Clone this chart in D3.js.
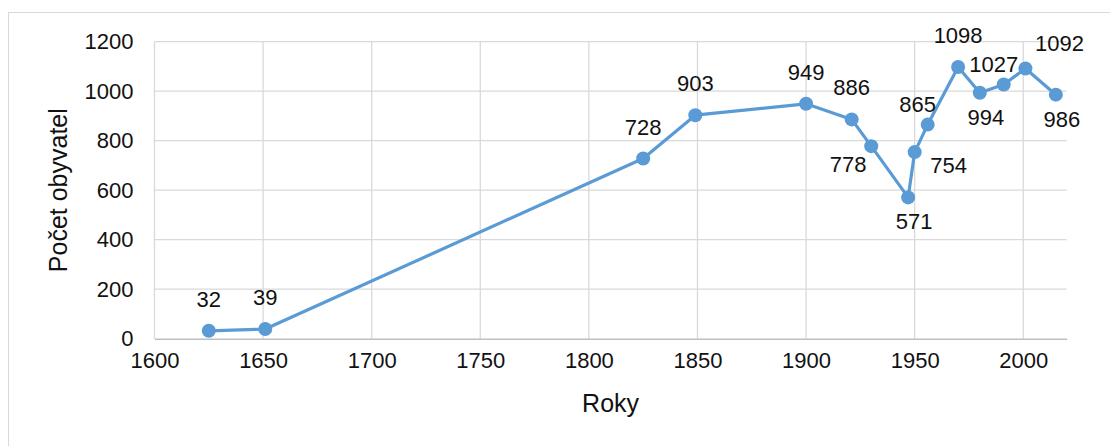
<!DOCTYPE html>
<html>
<head>
<meta charset="utf-8">
<script src="https://d3js.org/d3.v7.min.js"></script>
<style>
  body { margin: 0; background: #fff; }
  text { font-family: "Liberation Sans", Arial, sans-serif; fill: #111; }
</style>
</head>
<body>
<div id="chart"></div>
<script>
// Data
const years = [1625, 1651, 1825, 1849, 1900, 1921, 1930, 1947, 1950, 1956, 1970, 1980, 1991, 2001, 2015];
const population = [32, 39, 728, 903, 949, 886, 778, 571, 754, 865, 1098, 994, 1027, 1092, 986];
const labelPlacement = ["above", "above", "above", "above", "above", "above", "belowLeft", "below",
    "belowRight", "aboveLeft", "above", "below", "aboveLeft", "aboveRight", "below"];
const xTicks = [1600, 1650, 1700, 1750, 1800, 1850, 1900, 1950, 2000];
const yTicks = [0, 200, 400, 600, 800, 1000, 1200];

const width = 1110;
const height = 446;
const margin = { top: 41.7, right: 43.3, bottom: 107.3, left: 154.5 };

const svg = d3.select("#chart")
    .append("svg")
    .attr("width", width)
    .attr("height", height);

// outer chart border
svg.append("rect")
    .attr("x", 8.5).attr("y", 12.5)
    .attr("width", 1110).attr("height", 450)
    .attr("fill", "none")
    .attr("stroke", "#d9d9d9");

const x = d3.scaleLinear()
    .domain([1600, 2020])
    .range([margin.left, width - margin.right]);

const y = d3.scaleLinear()
    .domain([0, 1200])
    .range([height - margin.bottom, margin.top]);

// gridlines
svg.append("g")
    .selectAll("line")
    .data(yTicks.slice(1))
    .enter()
    .append("line")
    .attr("x1", x(1600)).attr("x2", x(2020))
    .attr("y1", d => y(d)).attr("y2", d => y(d))
    .attr("stroke", "#d9d9d9").attr("stroke-width", 1.3);

svg.append("g")
    .selectAll("line")
    .data(xTicks)
    .enter()
    .append("line")
    .attr("x1", d => x(d)).attr("x2", d => x(d))
    .attr("y1", y(0)).attr("y2", y(1200))
    .attr("stroke", "#d9d9d9").attr("stroke-width", 1.3);

// X axis
const xAxis = svg.append("g")
    .attr("transform", `translate(0,${y(0)})`)
    .call(d3.axisBottom(x).tickValues(xTicks).tickFormat(d3.format("d")).tickSize(0).tickPadding(14));
xAxis.select(".domain").attr("stroke", "#bfbfbf").attr("stroke-width", 1.5);
xAxis.selectAll("text").attr("font-size", 22).attr("fill", "#111");

// Y axis
const yAxis = svg.append("g")
    .attr("transform", `translate(${margin.left},0)`)
    .call(d3.axisLeft(y).tickValues(yTicks).tickFormat(d3.format("d")).tickSize(0).tickPadding(21));
yAxis.select(".domain").remove();
yAxis.selectAll("text").attr("font-size", 22).attr("fill", "#111");

// axis titles
svg.append("text")
    .attr("x", (x(1600) + x(2020)) / 2)
    .attr("y", 412)
    .attr("text-anchor", "middle")
    .attr("font-size", 25)
    .text("Roky");

svg.append("text")
    .attr("transform", `translate(67,${(y(0) + y(1200)) / 2}) rotate(-90)`)
    .attr("text-anchor", "middle")
    .attr("font-size", 25)
    .text("Počet obyvatel");

const points = years.map((yr, i) => ({ year: yr, value: population[i], place: labelPlacement[i] }));

// line
svg.append("path")
    .datum(points)
    .attr("fill", "none")
    .attr("stroke", "#5b9bd5")
    .attr("stroke-width", 3.2)
    .attr("stroke-linejoin", "round")
    .attr("d", d3.line().x(d => x(d.year)).y(d => y(d.value)));

// markers
svg.selectAll(".dot")
    .data(points)
    .enter()
    .append("circle")
    .attr("class", "dot")
    .attr("cx", d => x(d.year))
    .attr("cy", d => y(d.value))
    .attr("r", 7)
    .attr("fill", "#5b9bd5");

// data labels
const offsets = {
    above: [0, -24],
    below: [6, 32],
    belowLeft: [-23, 26],
    belowRight: [34, 21],
    aboveLeft: [-10, -13],
    aboveRight: [34, -17]
};

svg.selectAll(".lbl")
    .data(points)
    .enter()
    .append("text")
    .attr("class", "lbl")
    .attr("x", d => x(d.year) + offsets[d.place][0])
    .attr("y", d => y(d.value) + offsets[d.place][1])
    .attr("text-anchor", "middle")
    .attr("font-size", 22)
    .text(d => d.value);
</script>
</body>
</html>
